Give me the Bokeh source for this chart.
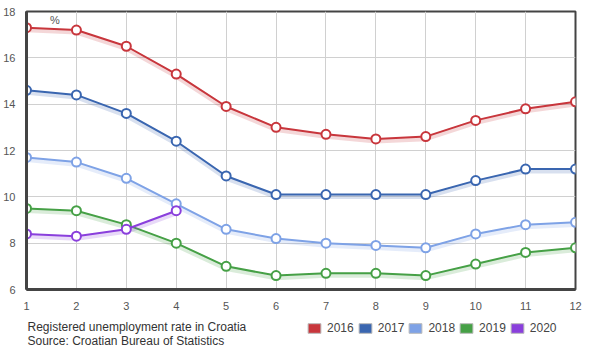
from bokeh.plotting import figure
from bokeh.layouts import column
from bokeh.models import Range1d, Label, Legend, LegendItem, FixedTicker, ColumnDataSource
from bokeh.transform import dodge
from bokeh.embed import file_html
from bokeh.resources import INLINE

months = [1, 2, 3, 4, 5, 6, 7, 8, 9, 10, 11, 12]
y2016 = [17.3, 17.2, 16.5, 15.3, 13.9, 13.0, 12.7, 12.5, 12.6, 13.3, 13.8, 14.1]
y2017 = [14.6, 14.4, 13.6, 12.4, 10.9, 10.1, 10.1, 10.1, 10.1, 10.7, 11.2, 11.2]
y2018 = [11.7, 11.5, 10.8, 9.7, 8.6, 8.2, 8.0, 7.9, 7.8, 8.4, 8.8, 8.9]
y2019 = [9.5, 9.4, 8.8, 8.0, 7.0, 6.6, 6.7, 6.7, 6.6, 7.1, 7.6, 7.8]
y2020 = [8.4, 8.3, 8.6, 9.4]
years = ["2016", "2017", "2018", "2019", "2020"]
colors = ["#c8363c", "#3a66b0", "#7ea2e6", "#46a046", "#8a3fdc"]
series = [y2016, y2017, y2018, y2019, y2020]
y_ticks = [6, 8, 10, 12, 14, 16, 18]
footer_lines = ["Registered unemployment rate in Croatia", "Source: Croatian Bureau of Statistics"]

FONT = "Liberation Sans"
W = 594
FL, FR = 26, 575  # frame left/right in page pixels

p = figure(width=W, height=313, output_backend="svg", toolbar_location=None,
           x_range=Range1d(1, 12), y_range=Range1d(6, 18),
           min_border_left=FL, min_border_right=W - FR, min_border_top=11, min_border_bottom=24)
p.background_fill_color = "white"
p.border_fill_color = "white"
p.outline_line_color = "#444444"
p.outline_line_width = 2

p.xaxis.ticker = FixedTicker(ticks=months)
p.yaxis.ticker = FixedTicker(ticks=y_ticks)
for ax in (p.xaxis, p.yaxis):
    ax.axis_line_color = "#444444"
    ax.axis_line_width = 3
    ax.major_tick_line_color = None
    ax.minor_tick_line_color = None
    ax.major_label_text_font = FONT
    ax.major_label_text_font_size = "11px"
    ax.major_label_text_color = "#555555"
p.xaxis.major_label_standoff = 6
p.yaxis.major_label_standoff = 5
p.grid.grid_line_color = "#d0d0d0"
p.grid.grid_line_width = 1

for ys, c in zip(series, colors):
    xs = months[:len(ys)]
    src = ColumnDataSource(dict(x=xs, y=ys))
    p.line("x", dodge("y", -0.09, range=p.y_range), source=src, line_color=c, line_width=5, line_alpha=0.2)
    p.line("x", "y", source=src, line_color=c, line_width=2)
    p.scatter("x", "y", source=src, size=9, fill_color="white", line_color=c, line_width=2)

p.add_layout(Label(x=1.47, y=17.62, text="%", text_baseline="middle",
                   text_font=FONT, text_font_size="11px", text_color="#555555"))

# footer (its frame is aligned with the main frame by the column layout)
f = figure(width=W, height=40, output_backend="svg", toolbar_location=None,
           x_range=Range1d(FL, FR), y_range=Range1d(40, 0),
           min_border_left=FL, min_border_right=W - FR, min_border_top=0, min_border_bottom=0)
f.axis.visible = False
f.grid.visible = False
f.outline_line_color = None
f.background_fill_color = "white"
f.border_fill_color = "white"

for i, t in enumerate(footer_lines):
    f.add_layout(Label(x=27, y=13 + 14 * i, text=t, text_baseline="middle",
                       text_font=FONT, text_font_size="12px", text_color="#333333"))

items = []
for yr, c in zip(years, colors):
    # legend proxy: a swatch placed outside the footer's visible range
    r = f.quad(left=[0], right=[1], top=[0], bottom=[1], fill_color=c, line_color="#bbbbbb")
    items.append(LegendItem(label=yr, renderers=[r]))
leg = Legend(items=items, orientation="horizontal", location=(306 - FL, 18),
             glyph_width=16, glyph_height=12, label_text_font=FONT,
             label_text_font_size="12px", label_text_color="#444444",
             label_standoff=5, spacing=3, padding=0, margin=0,
             border_line_color=None, background_fill_alpha=0)
f.add_layout(leg, "center")

layout = column(p, f, spacing=0)
open("out.html", "w").write(file_html(layout, INLINE))
